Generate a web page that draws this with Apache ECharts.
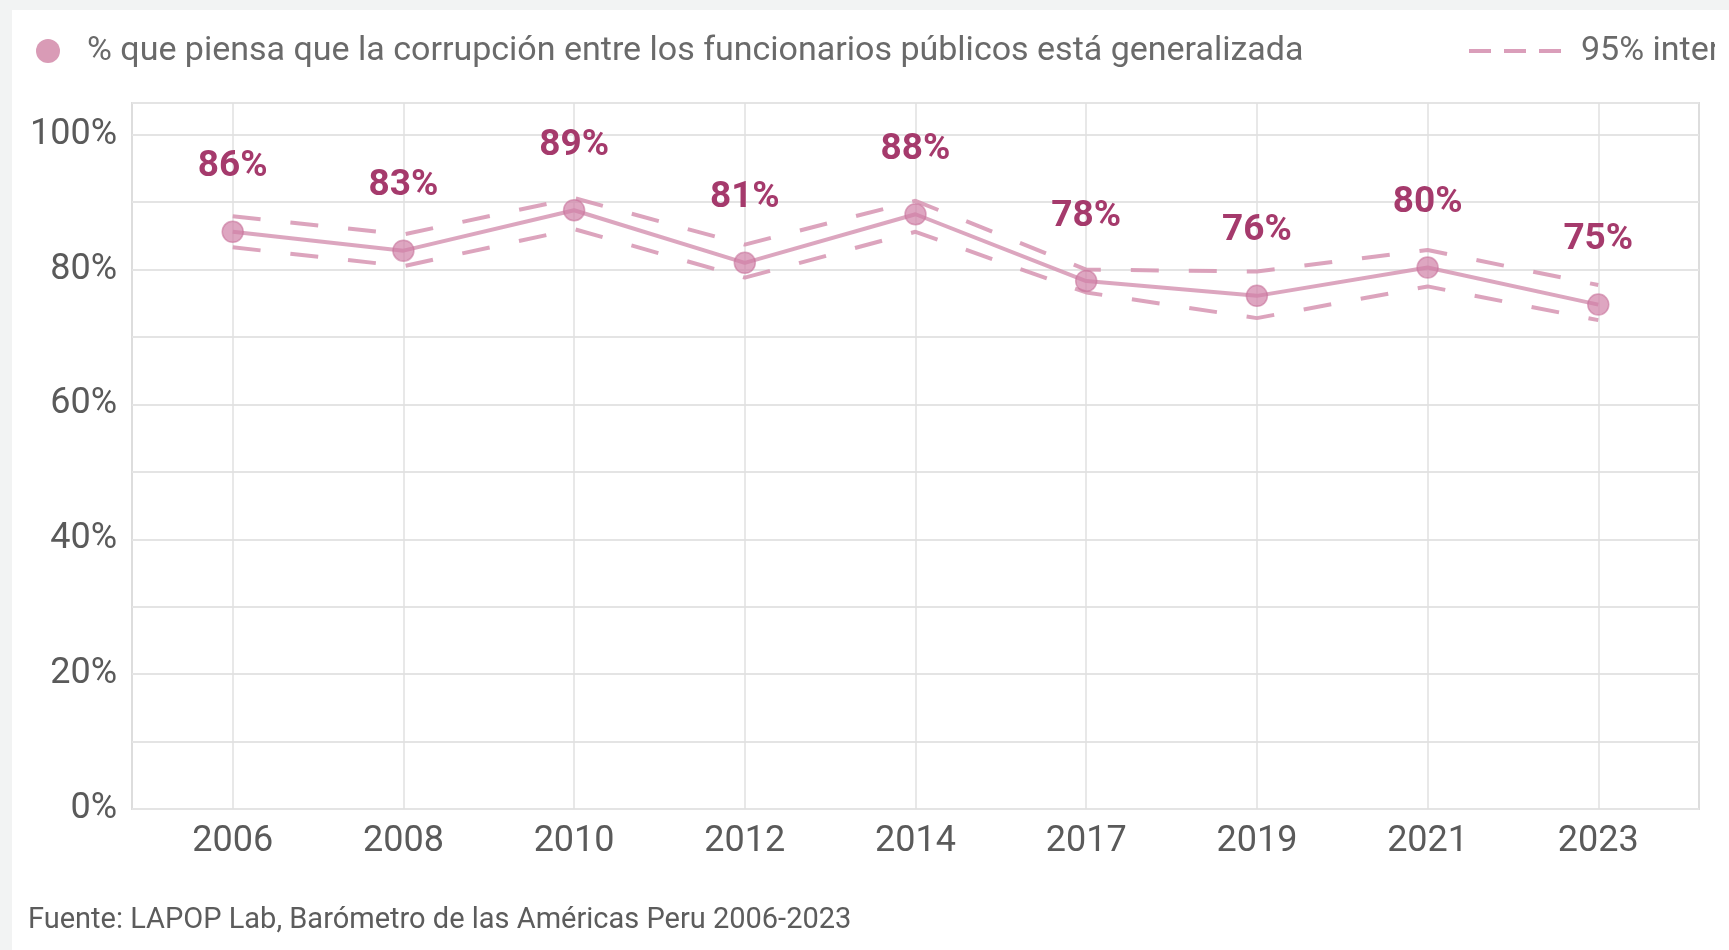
<!DOCTYPE html>
<html>
<head>
<meta charset="utf-8">
<title>Corrupción percibida entre funcionarios públicos</title>
<script src="https://cdn.jsdelivr.net/npm/echarts@6/dist/echarts.min.js"></script>
<style>
  html, body { margin: 0; padding: 0; width: 1729px; height: 950px; overflow: hidden; background: #f2f3f3; }
  #card { position: absolute; left: 12px; top: 10px; width: 1717px; height: 940px; background: #ffffff; }
  #chart { position: absolute; left: 0; top: 0; width: 1703px; height: 940px; }
</style>
</head>
<body>
<div id="card"><div id="chart"></div></div>
<script>
// Survey years (x axis)
const years = ['2006', '2008', '2010', '2012', '2014', '2017', '2019', '2021', '2023'];
// Share who think corruption among public officials is widespread (%)
const generalizada = [85.6, 82.8, 88.8, 81.0, 88.2, 78.3, 76.1, 80.3, 74.8];
// 95% confidence interval bounds (%)
const ciUpper = [87.9, 85.2, 90.6, 83.7, 90.2, 80.0, 79.7, 82.9, 77.7];
const ciLower = [83.3, 80.5, 86.0, 78.8, 85.6, 76.6, 72.8, 77.5, 72.5];
// Y axis tick labels
const yTickLabels = [0, 20, 40, 60, 80, 100];

const mainName = '% que piensa que la corrupción entre los funcionarios públicos está generalizada';
const ciName = '95% intervalo de confianza';
const source = 'Fuente: LAPOP Lab, Barómetro de las Américas Peru 2006-2023';

const idx = years.map((_, i) => i);
const pts = arr => arr.map((v, i) => [i, v]);

const FONT = 'Roboto, "Noto Sans", sans-serif';
const ciStyle = { color: 'rgba(214, 148, 178, 0.85)', width: 4, type: [28, 30] };

const chart = echarts.init(document.getElementById('chart'), null, { renderer: 'canvas' });
chart.setOption({
  animation: false,
  backgroundColor: '#ffffff',
  textStyle: { fontFamily: FONT },
  title: {
    text: source,
    left: 16,
    top: 894,
    padding: 0,
    textStyle: { fontFamily: FONT, fontSize: 29, fontWeight: 'normal', color: '#5c5c5c', lineHeight: 34 }
  },
  legend: [
    {
      data: [mainName],
      left: 24,
      top: 24,
      padding: 0,
      itemWidth: 24,
      itemHeight: 24,
      icon: 'circle',
      itemStyle: { color: '#d99bb6', borderWidth: 0 },
      textStyle: { fontFamily: FONT, fontSize: 34, color: '#6a6a6a', lineHeight: 34, padding: [0, 0, 0, 22] }
    },
    {
      data: [ciName],
      left: 1455,
      top: 24,
      padding: 0,
      itemWidth: 93,
      itemHeight: 24,
      itemStyle: { opacity: 0 },
      lineStyle: { color: 'rgba(214, 148, 178, 0.9)', width: 4, type: [22, 13] },
      textStyle: { fontFamily: FONT, fontSize: 34, color: '#6a6a6a', lineHeight: 34, padding: [0, 0, 0, 14] }
    }
  ],
  grid: {
    left: 120,
    right: 16,
    top: 93,
    bottom: 141,
    show: true,
    borderColor: '#dddddd',
    borderWidth: 2,
    backgroundColor: 'transparent'
  },
  xAxis: {
    type: 'value',
    min: -0.59,
    max: 8.59,
    axisLine: { show: false },
    axisTick: { show: false, customValues: idx },
    axisLabel: {
      customValues: idx,
      formatter: v => years[Math.round(v)],
      color: '#5a5a5a',
      fontSize: 36,
      fontFamily: FONT,
      margin: 15
    },
    splitLine: { show: true, lineStyle: { color: '#e0e0e0', width: 1.5 } }
  },
  yAxis: {
    type: 'value',
    min: 0,
    max: 104.7,
    interval: 10,
    axisLine: { show: false },
    axisTick: { show: false },
    axisLabel: {
      showMaxLabel: false,
      formatter: v => (yTickLabels.indexOf(Math.round(v)) >= 0 && Math.abs(v - Math.round(v)) < 1e-6) ? v + '%' : '',
      color: '#5a5a5a',
      fontSize: 36,
      fontFamily: FONT,
      margin: 15
    },
    splitLine: { show: true, lineStyle: { color: '#e4e4e4', width: 2 } }
  },
  series: [
    {
      name: ciName,
      type: 'line',
      data: pts(ciUpper),
      symbol: 'none',
      lineStyle: ciStyle,
      itemStyle: { color: 'rgba(214, 148, 178, 0.9)' },
      silent: true,
      z: 2
    },
    {
      name: ciName,
      type: 'line',
      data: pts(ciLower),
      symbol: 'none',
      lineStyle: ciStyle,
      itemStyle: { color: 'rgba(214, 148, 178, 0.9)' },
      silent: true,
      z: 2
    },
    {
      name: mainName,
      type: 'line',
      data: pts(generalizada),
      symbol: 'circle',
      symbolSize: 21,
      lineStyle: { color: 'rgba(214, 150, 180, 0.85)', width: 4 },
      itemStyle: { color: 'rgba(208, 128, 166, 0.7)', borderColor: 'rgba(200, 115, 155, 0.6)', borderWidth: 1.5 },
      label: {
        show: true,
        position: 'top',
        distance: 35,
        formatter: p => Math.round(p.value[1]) + '%',
        color: '#a53a6c',
        fontSize: 37,
        fontWeight: 'bold',
        fontFamily: FONT
      },
      z: 3
    }
  ]
});
</script>
</body>
</html>
